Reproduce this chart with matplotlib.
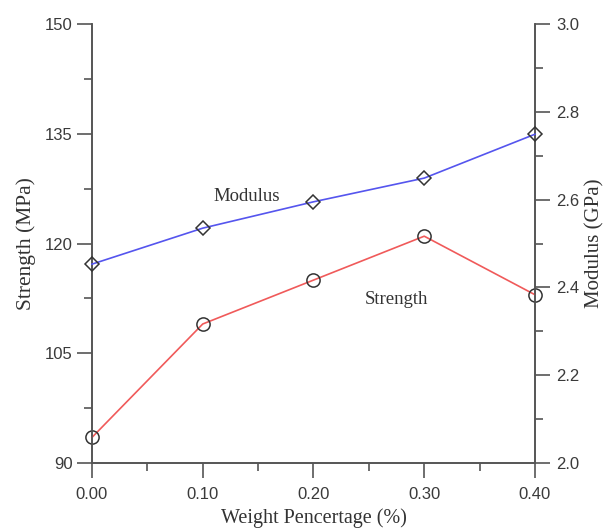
import matplotlib
matplotlib.use("Agg")
import matplotlib.pyplot as plt
from matplotlib.ticker import MultipleLocator

weight = [0.00, 0.10, 0.20, 0.30, 0.40]
strength = [93.5, 109.0, 115.0, 121.0, 113.0]
modulus = [2.453, 2.535, 2.595, 2.649, 2.749]

axis_col = "#555555"
sans = ["Liberation Sans", "DejaVu Sans"]
serif = ["Liberation Serif", "DejaVu Serif"]

fig = plt.figure(figsize=(6.08, 5.28), dpi=100)
ax = fig.add_axes([0.1513, 0.1231, 0.7286, 0.8314])
ax2 = ax.twinx()

ax.plot(weight, strength, color="#f05a5a", lw=1.2, marker="o", ms=9.5,
        mfc="none", mec="#333333", mew=1.1, clip_on=False, zorder=3)
ax2.plot(weight, modulus, color="#5555ee", lw=1.2, marker="D", ms=6.8,
         mfc="none", mec="#333333", mew=1.1, clip_on=False, zorder=3)

ax.set_xlim(0, 0.4)
ax.set_ylim(90, 150)
ax2.set_ylim(2.0, 3.0)

ax.xaxis.set_major_locator(MultipleLocator(0.1))
ax.xaxis.set_minor_locator(MultipleLocator(0.05))
ax.yaxis.set_major_locator(MultipleLocator(15))
ax.yaxis.set_minor_locator(MultipleLocator(7.5))
ax2.yaxis.set_major_locator(MultipleLocator(0.2))
ax2.yaxis.set_minor_locator(MultipleLocator(0.1))

ax.set_xticklabels([f"{v:.2f}" for v in ax.get_xticks()])
ax2.set_yticklabels([f"{v:.1f}" for v in ax2.get_yticks()])

for a in (ax, ax2):
    a.spines["top"].set_visible(False)
    for s in a.spines.values():
        s.set_color(axis_col)
        s.set_linewidth(1.2)
    a.tick_params(which="major", direction="out", length=10.5, width=1.2,
                  color=axis_col, labelsize=12, labelcolor="#3a3a3a")
    a.tick_params(which="minor", direction="out", length=6, width=1.2,
                  color=axis_col)
    for lab in a.get_xticklabels() + a.get_yticklabels():
        lab.set_family(sans)
ax.tick_params(axis="x", which="major", pad=6.5)
ax.tick_params(axis="y", which="major", pad=3.5)
ax2.tick_params(axis="y", which="major", pad=5)

ax.set_xlabel("Weight Pencertage (%)", family=serif, fontsize=14.5,
              color="#333333", labelpad=5)
ax.set_ylabel("Strength (MPa)", family=serif, fontsize=15.5,
              color="#333333", labelpad=6)
ax2.set_ylabel("Modulus (GPa)", family=serif, fontsize=15,
               color="#333333", labelpad=4)

ax2.text(0.14, 2.606, "Modulus", family=serif, fontsize=13.5,
         color="#333333", ha="center", va="center")
ax.text(0.2745, 112.4, "Strength", family=serif, fontsize=13.5,
        color="#333333", ha="center", va="center")

fig.savefig("out.png", dpi=100)
